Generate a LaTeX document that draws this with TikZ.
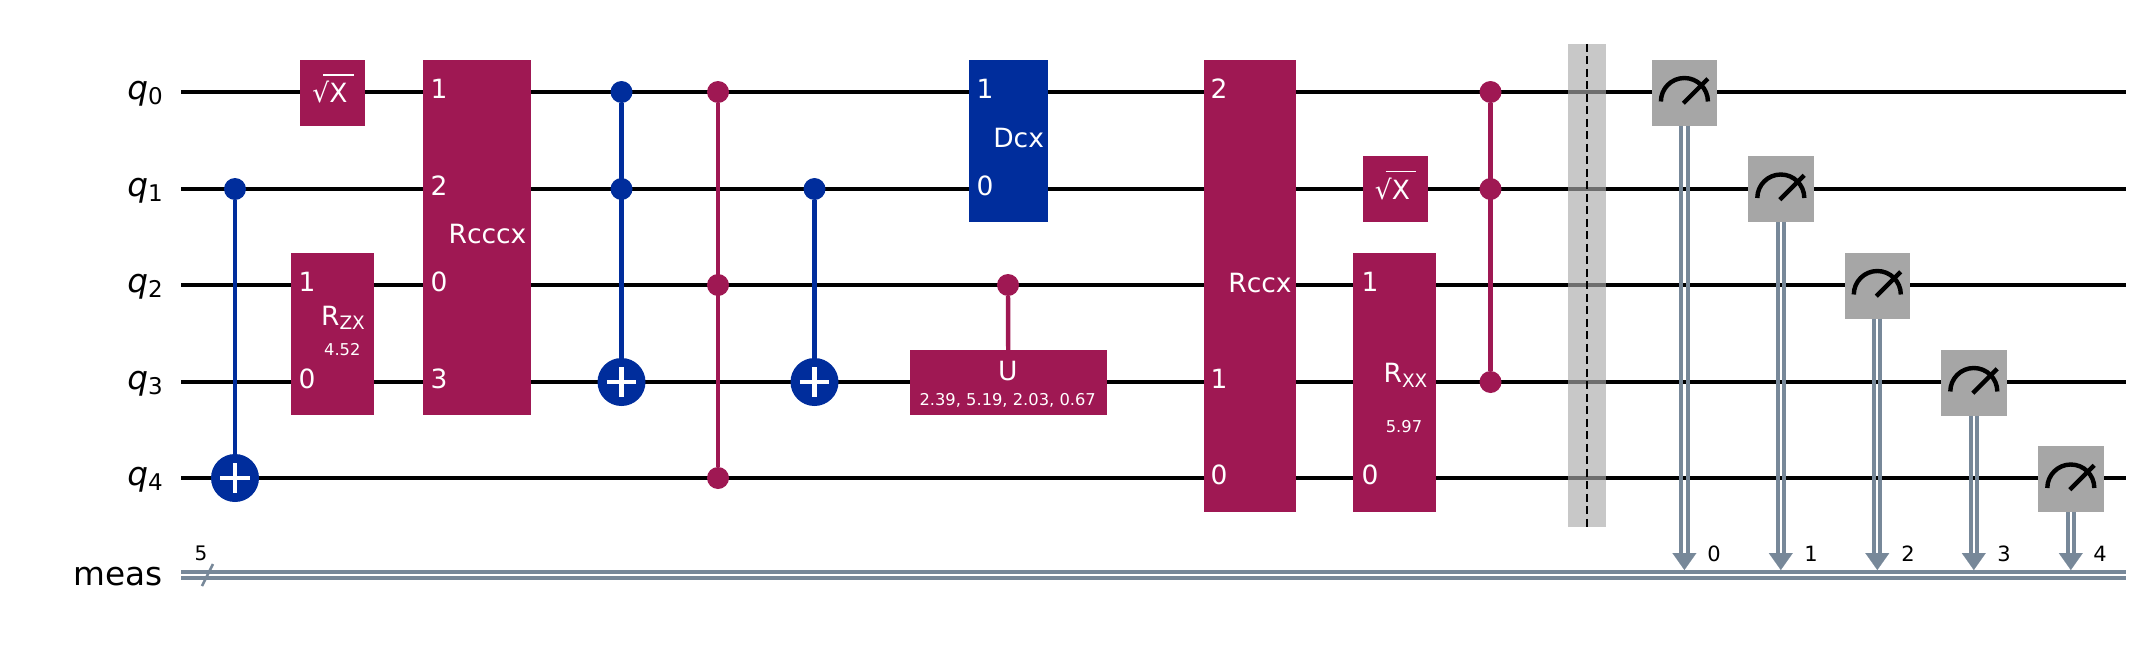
\documentclass[tikz,border=0pt]{standalone}
\usepackage{fontspec}
\setmainfont{DejaVu Sans}
\usetikzlibrary{arrows.meta,calc}
\definecolor{gatepink}{HTML}{9F1853}
\definecolor{gateblue}{HTML}{002D9C}
\definecolor{steel}{HTML}{778899}
\definecolor{metergrey}{HTML}{A6A6A6}
\definecolor{bargrey}{HTML}{AAAAAA}
\newcommand{\fs}[1]{\fontsize{#1}{#1}\selectfont}
\newcommand{\qlab}[1]{{\itshape q}\raisebox{-5pt}{\fs{23}#1}}
\newcommand{\sub}[1]{\raisebox{-4.6pt}{\fs{18.5}#1}}
\tikzset{
  wire/.style={draw=black,line width=4.4pt},
  gatebox/.style={rectangle,draw=none,fill=#1,inner sep=0pt,minimum width=10pt,minimum height=10pt},
  glabel/.style={anchor=base,text=white,inner sep=0pt,font=\fs{26.5}},
  gparam/.style={anchor=base,text=white,inner sep=0pt,font=\fs{16.3}},
  qname/.style={anchor=base east,inner sep=0pt,font=\fs{32.7}},
  ctl/.style={circle,fill=#1,inner sep=0pt,minimum size=22pt},
  tgt/.style={circle,fill=gateblue,inner sep=0pt,minimum size=48pt,
    path picture={\draw[white,line width=4.6pt]
      ($(path picture bounding box.center)+(-14.7pt,0pt)$) -- ($(path picture bounding box.center)+(14.7pt,0pt)$)
      ($(path picture bounding box.center)+(0pt,-14.7pt)$) -- ($(path picture bounding box.center)+(0pt,14.7pt)$);}},
  link/.style={draw=#1,line width=4.4pt},
  meterbox/.style={rectangle,fill=metergrey,inner sep=0pt,minimum width=65.5pt,minimum height=66pt},
  dial/.style={draw=black,line width=4.4pt},
  clines/.style={draw=steel,line width=4pt},
  cwire/.style={draw=steel,line width=4.2pt},
  ctip/.style={draw=steel,line width=0.1pt,-{Triangle[width=24pt,length=17pt,fill=steel]}},
  clabel/.style={anchor=base,inner sep=0pt,font=\fs{21}},
  radbar/.style={draw=white,line width=1.2pt},
}
\newcommand{\radicalbar}[1]{\draw[radbar] ($(#1.center)+(-9.5pt,17.5pt)$) -- ($(#1.center)+(21pt,17.5pt)$);}
\newcommand{\meterglyph}[1]{%
  \draw[dial] ($(#1.center)+(-23.5pt,-9pt)$) arc[start angle=180,end angle=0,radius=23.5pt];
  \draw[dial] ($(#1.center)+(-1pt,-10.7pt)$) -- ($(#1.center)+(23.4pt,13.7pt)$);}
\newcommand{\measlink}[3]{% meter, arrow base, arrow end
  \draw[clines] ($(#1.south)+(-3.1pt,0pt)$) -- ($(#2)+(-3.1pt,0pt)$);
  \draw[clines] ($(#1.south)+(3.1pt,0pt)$) -- ($(#2)+(3.1pt,0pt)$);
  \draw[ctip] (#2) -- (#3);}
\begin{document}
\begin{tikzpicture}[x=1pt,y=-1pt]
\useasboundingbox (0,0) rectangle (2148,648);
% wires
\foreach \n/\y in {0/92,1/189,2/285,3/382,4/478}{
  \coordinate (wl\n) at (181,\y);
  \coordinate (wr\n) at (2126,\y);
  \draw[wire] (wl\n) -- (wr\n);
}
\coordinate (ca) at (181,572); \coordinate (cb) at (2126,572);
\coordinate (cc) at (181,578); \coordinate (cd) at (2126,578);
\draw[cwire] (ca) -- (cb);
\draw[cwire] (cc) -- (cd);
\coordinate (sa) at (202,586); \coordinate (sb) at (213,564);
\draw[draw=steel,line width=2.5pt] (sa) -- (sb);
\node[clabel,font=\fs{20}] (five) at (201,560.7) {5};
% names
\node[qname] (n0) at (163,99) {\qlab{0}};
\node[qname] (n1) at (163,196) {\qlab{1}};
\node[qname] (n2) at (163,292) {\qlab{2}};
\node[qname] (n3) at (163,389) {\qlab{3}};
\node[qname] (n4) at (163,485) {\qlab{4}};
\node[qname] (nm) at (162.5,585) {meas};
% CX 1
\node[ctl=gateblue] (c1) at (235,189) {};
\node[tgt] (t1) at (235,478) {};
\draw[link=gateblue] (c1) -- (t1);
% sqrt X 1
\node[gatebox=gatepink,minimum width=65pt,minimum height=66pt] (sx1) at (332.5,92.5) {};
\node[glabel] (sx1t) at (330,102.7) {√X};
\radicalbar{sx1}
% Rzx
\node[gatebox=gatepink,minimum width=83pt,minimum height=162pt] (rzx) at (332.5,334) {};
\node[glabel] (rzx1) at (307,291.5) {1};
\node[glabel] (rzx0) at (307,388.5) {0};
\node[glabel] (rzxt) at (343,325) {R\sub{ZX}};
\node[gparam] (rzxp) at (342.3,355.3) {4.52};
% Rcccx
\node[gatebox=gatepink,minimum width=108pt,minimum height=355pt] (r3) at (477,237.5) {};
\node[glabel] (r31) at (439,98.5) {1};
\node[glabel] (r32) at (439,195.5) {2};
\node[glabel] (r30) at (439,291.5) {0};
\node[glabel] (r33) at (439,388.5) {3};
\node[glabel] (r3t) at (487.5,243) {Rcccx};
% CCX
\node[ctl=gateblue] (c20) at (621.5,92) {};
\node[ctl=gateblue] (c21) at (621.5,189) {};
\node[tgt] (t2) at (621.5,382) {};
\draw[link=gateblue] (c20) -- (t2);
% CCZ
\node[ctl=gatepink] (z0) at (718,92) {};
\node[ctl=gatepink] (z2) at (718,285) {};
\node[ctl=gatepink] (z4) at (718,478) {};
\draw[link=gatepink] (z0) -- (z4);
% CX 3
\node[ctl=gateblue] (c3) at (814.5,189) {};
\node[tgt] (t3) at (814.5,382) {};
\draw[link=gateblue] (c3) -- (t3);
% Dcx
\node[gatebox=gateblue,minimum width=79pt,minimum height=162pt] (dcx) at (1008.5,141) {};
\node[glabel] (dcx1) at (985,98.5) {1};
\node[glabel] (dcx0) at (985,195.5) {0};
\node[glabel] (dcxt) at (1018.6,147.7) {Dcx};
% CU
\node[ctl=gatepink] (cu) at (1008,285) {};
\node[gatebox=gatepink,minimum width=197pt,minimum height=65pt] (ug) at (1008.3,382.5) {};
\draw[link=gatepink] (cu) -- (ug);
\node[glabel] (ut) at (1007.7,380) {U};
\node[gparam] (up) at (1007.7,405.7) {2.39, 5.19, 2.03, 0.67};
% Rccx
\node[gatebox=gatepink,minimum width=92pt,minimum height=452pt] (r2) at (1250,286) {};
\node[glabel] (r22) at (1219,98.5) {2};
\node[glabel] (r21) at (1219,388.5) {1};
\node[glabel] (r20) at (1219,484.5) {0};
\node[glabel] (r2t) at (1260,292.7) {Rccx};
% sqrt X 2
\node[gatebox=gatepink,minimum width=65pt,minimum height=66pt] (sx2) at (1395,189) {};
\node[glabel] (sx2t) at (1392.5,199.2) {√X};
\radicalbar{sx2}
% Rxx
\node[gatebox=gatepink,minimum width=83pt,minimum height=259pt] (rxx) at (1394.5,382.5) {};
\node[glabel] (rxx1) at (1370,291.5) {1};
\node[glabel] (rxx0) at (1370,484.5) {0};
\node[glabel] (rxxt) at (1405.5,382.7) {R\sub{XX}};
\node[gparam] (rxxp) at (1404,432) {5.97};
% CCZ 2
\node[ctl=gatepink] (y0) at (1490.5,92) {};
\node[ctl=gatepink] (y1) at (1490.5,189) {};
\node[ctl=gatepink] (y3) at (1490.5,382) {};
\draw[link=gatepink] (y0) -- (y3);
% barrier
\node[rectangle,fill=bargrey,fill opacity=.65,inner sep=0pt,minimum width=38pt,minimum height=483pt] (bar) at (1587,285.5) {};
\draw[draw=black,line width=2.5pt,dash pattern=on 8pt off 4.5pt] (bar.north) -- (bar.south);
% measures
\foreach \i/\x/\y/\lx in {0/1684.4/92.5/1714,1/1780.8/189/1811,2/1877.3/285.5/1908,3/1973.8/382.5/2004,4/2070.8/479/2100}{
  \node[meterbox] (m\i) at (\x,\y) {};
  \meterglyph{m\i}
  \coordinate (ab\i) at (\x,553);
  \coordinate (ae\i) at (\x,570);
  \measlink{m\i}{ab\i}{ae\i}
  \node[clabel] (ml\i) at (\lx,561) {\i};
}
\end{tikzpicture}
\end{document}
